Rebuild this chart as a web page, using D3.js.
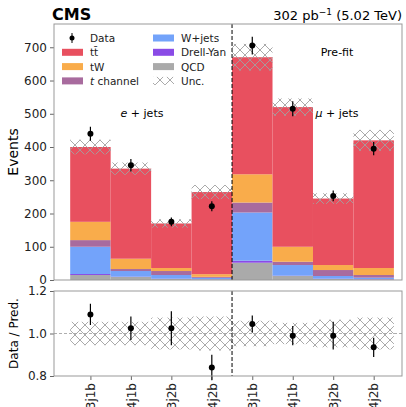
<!DOCTYPE html>
<html><head><meta charset="utf-8">
<script src="https://cdn.jsdelivr.net/npm/d3@7"></script>
<style>body{margin:0;background:#fff}text{font-family:"DejaVu Sans",sans-serif}</style>
</head><body><div id="vis"></div>
<script>
// Bins and stacked processes (bottom to top).
const bins = ["3j1b", "4j1b", "3j2b", "4j2b", "3j1b", "4j1b", "3j2b", "4j2b"];
const qcd = [15, 9, 3, 2, 52, 12, 3, 2];
const dy = [3, 1, 1, 0.5, 6, 1, 1, 1];
const wjets = [82, 17, 11, 4, 145, 32, 8, 4];
const tchan = [20, 6, 12, 3, 30, 10, 18, 8];
const tw = [55, 31, 9, 8, 85, 45, 15, 21];
const ttbar = [225, 271, 134, 247, 352, 420, 200, 384];
const data = [440, 345, 175, 222, 705, 515, 253, 395];
const uncFrac = [0.055, 0.055, 0.075, 0.08, 0.06, 0.05, 0.065, 0.075];
const ratio = [1.09, 1.025, 1.025, 0.84, 1.045, 0.99, 0.99, 0.935];
const ratioErr = [0.05, 0.055, 0.08, 0.06, 0.04, 0.045, 0.065, 0.045];

const procs = [
  {name: "QCD", vals: qcd, color: "#aaaaaa"},
  {name: "Drell-Yan", vals: dy, color: "#8a4be6"},
  {name: "W+jets", vals: wjets, color: "#73a3fa"},
  {name: "t channel", vals: tchan, color: "#a86b9e"},
  {name: "tW", vals: tw, color: "#f9ac4b"},
  {name: "tt̄", vals: ttbar, color: "#e8505f"}
];

const svg = d3.select("#vis").append("svg").attr("width", 406).attr("height", 407);
const defs = svg.append("defs");
const pat = defs.append("pattern").attr("id", "hatch").attr("patternUnits", "userSpaceOnUse")
  .attr("width", 10).attr("height", 10);
pat.append("path").attr("d", "M0,0L10,10M10,0L0,10").attr("stroke", "#a0a0a0").attr("stroke-width", 0.9);

const L = 54, R = 402, T = 24, B1 = 280, T2 = 291, B2 = 376;
const x = d3.scaleLinear().domain([-0.4, 8.2]).range([L, R]);
const y = d3.scaleLinear().domain([0, 770]).range([B1, T]);
const yr = d3.scaleLinear().domain([0.8, 1.2]).range([B2, T2]);

const plot = svg.append("g");

// Stacks
const totals = bins.map(() => 0);
procs.forEach(p => {
  p.vals.forEach((v, i) => {
    plot.append("rect").attr("x", x(i)).attr("width", x(i + 1) - x(i))
      .attr("y", y(totals[i] + v)).attr("height", y(totals[i]) - y(totals[i] + v))
      .attr("fill", p.color);
    totals[i] += v;
  });
});
totals.forEach((t, i) => {
  plot.append("rect").attr("x", x(i)).attr("width", x(i + 1) - x(i))
    .attr("y", y(t * (1 + uncFrac[i]))).attr("height", y(t * (1 - uncFrac[i])) - y(t * (1 + uncFrac[i])))
    .attr("fill", "url(#hatch)");
});
data.forEach((d, i) => {
  const e = Math.sqrt(d);
  plot.append("line").attr("x1", x(i + 0.5)).attr("x2", x(i + 0.5)).attr("y1", y(d - e)).attr("y2", y(d + e))
    .attr("stroke", "#000").attr("stroke-width", 1.2);
  plot.append("circle").attr("cx", x(i + 0.5)).attr("cy", y(d)).attr("r", 3).attr("fill", "#000");
});

// Ratio panel
plot.append("line").attr("x1", L).attr("x2", R).attr("y1", yr(1)).attr("y2", yr(1))
  .attr("stroke", "#999").attr("stroke-dasharray", "3,2").attr("stroke-width", 0.8);
uncFrac.forEach((u, i) => {
  plot.append("rect").attr("x", x(i)).attr("width", x(i + 1) - x(i))
    .attr("y", yr(1 + u)).attr("height", yr(1 - u) - yr(1 + u)).attr("fill", "url(#hatch)");
});
ratio.forEach((r, i) => {
  plot.append("line").attr("x1", x(i + 0.5)).attr("x2", x(i + 0.5))
    .attr("y1", yr(r - ratioErr[i])).attr("y2", yr(r + ratioErr[i])).attr("stroke", "#000").attr("stroke-width", 1.2);
  plot.append("circle").attr("cx", x(i + 0.5)).attr("cy", yr(r)).attr("r", 3).attr("fill", "#000");
});

// Dividers
[[T, B1], [T2, B2]].forEach(([a, b]) => {
  svg.append("line").attr("x1", x(4)).attr("x2", x(4)).attr("y1", a).attr("y2", b)
    .attr("stroke", "#000").attr("stroke-dasharray", "4,2").attr("stroke-width", 1);
});

// Axes
svg.append("g").attr("transform", `translate(${L},0)`)
  .call(d3.axisLeft(y).tickValues(d3.range(0, 701, 100)).tickSize(4).tickPadding(3));
svg.append("g").attr("transform", `translate(${L},0)`)
  .call(d3.axisLeft(yr).tickValues([0.8, 1.0, 1.2]).tickFormat(d3.format(".1f")).tickSize(4).tickPadding(3));
const xAx = svg.append("g").attr("transform", `translate(0,${B2})`)
  .call(d3.axisBottom(x).tickValues(d3.range(8).map(i => i + 0.5)).tickFormat((d, i) => bins[i]).tickSize(4));
xAx.selectAll("text").attr("transform", "rotate(-90)").attr("text-anchor", "end")
  .attr("x", -7).attr("y", 0).attr("dy", "0.35em");
svg.selectAll(".domain").remove();
svg.selectAll(".tick text").attr("font-size", 12).attr("fill", "#222");
svg.selectAll(".tick line").attr("stroke", "#666");
[[T, B1], [T2, B2]].forEach(([a, b]) => {
  svg.append("rect").attr("x", L).attr("y", a).attr("width", R - L).attr("height", b - a)
    .attr("fill", "none").attr("stroke", "#999").attr("stroke-width", 1);
});

// Titles
svg.append("text").attr("x", L - 2).attr("y", 20).attr("font-size", 16).attr("font-weight", "bold").text("CMS");
svg.append("text").attr("x", R).attr("y", 20).attr("font-size", 13).attr("text-anchor", "end")
  .html('302 pb<tspan dy="-5" font-size="9">−1</tspan><tspan dy="5"> (5.02 TeV)</tspan>');
svg.append("text").attr("transform", `translate(18,${(T + B1) / 2}) rotate(-90)`).attr("text-anchor", "middle")
  .attr("font-size", 14).text("Events");
svg.append("text").attr("transform", `translate(18,${(T2 + B2) / 2}) rotate(-90)`).attr("text-anchor", "middle")
  .attr("font-size", 12).text("Data / Pred.");
svg.append("text").attr("x", 337).attr("y", 56).attr("text-anchor", "middle").attr("font-size", 11).text("Pre-fit");
svg.append("text").attr("x", 142).attr("y", 117).attr("text-anchor", "middle").attr("font-size", 11)
  .html('<tspan font-style="italic">e</tspan> + jets');
svg.append("text").attr("x", 337).attr("y", 117).attr("text-anchor", "middle").attr("font-size", 11)
  .html('<tspan font-style="italic">μ</tspan> + jets');

// Legend
const leg = [
  {name: "Data", type: "data", col: 0, row: 0},
  {name: "tt̄", color: "#e8505f", col: 0, row: 1},
  {name: "tW", color: "#f9ac4b", col: 0, row: 2},
  {name: "t channel", color: "#a86b9e", col: 0, row: 3, italicT: true},
  {name: "W+jets", color: "#73a3fa", col: 1, row: 0},
  {name: "Drell-Yan", color: "#8a4be6", col: 1, row: 1},
  {name: "QCD", color: "#aaaaaa", col: 1, row: 2},
  {name: "Unc.", type: "unc", col: 1, row: 3}
];
leg.forEach(l => {
  const bx = l.col ? 153 : 62, ly = 38 + l.row * 14.3;
  if (l.type === "data") {
    svg.append("line").attr("x1", bx + 10).attr("x2", bx + 10).attr("y1", ly - 5).attr("y2", ly + 5).attr("stroke", "#000");
    svg.append("circle").attr("cx", bx + 10).attr("cy", ly).attr("r", 2.5);
  } else if (l.type === "unc") {
    svg.append("rect").attr("x", bx).attr("y", ly - 4).attr("width", 21).attr("height", 8).attr("fill", "url(#hatch)");
  } else {
    svg.append("rect").attr("x", bx).attr("y", ly - 3.5).attr("width", 21).attr("height", 7).attr("fill", l.color);
  }
  const t = svg.append("text").attr("x", bx + 28).attr("y", ly + 4).attr("font-size", 10.5).attr("fill", "#222");
  if (l.italicT) t.html('<tspan font-style="italic">t</tspan> channel'); else t.text(l.name);
});
</script></body></html>
